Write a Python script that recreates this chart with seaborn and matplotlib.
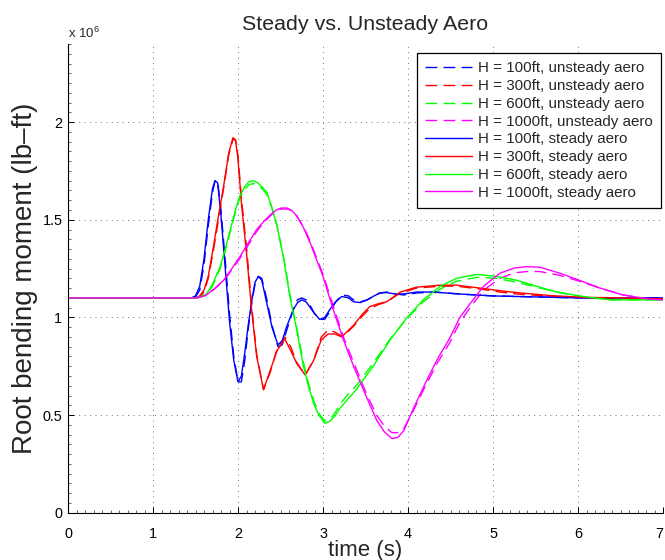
import matplotlib
matplotlib.use("Agg")
import matplotlib.pyplot as plt
import pandas as pd
import seaborn as sns
from matplotlib.ticker import MultipleLocator

# root bending moment in units of 1e6 lb-ft
T_100 = [0, 1.45, 1.50, 1.55, 1.60, 1.65, 1.70, 1.73, 1.76, 1.80, 1.85, 1.90, 1.95, 2.00, 2.04,
         2.08, 2.12, 2.16, 2.20, 2.24, 2.28, 2.34, 2.40, 2.47, 2.52, 2.57, 2.65, 2.70, 2.75, 2.80,
         2.85, 2.90, 2.96, 3.02, 3.08, 3.15, 3.22, 3.30, 3.36, 3.44, 3.52, 3.60, 3.67, 3.75, 3.85,
         3.95, 4.1, 4.3, 4.6, 5.0, 5.5, 6.0, 6.5, 7.0]
M_100_STEADY = [1.10, 1.10, 1.11, 1.16, 1.30, 1.50, 1.66, 1.70, 1.69, 1.52, 1.25, 0.98, 0.78, 0.67, 0.70,
                0.82, 0.96, 1.08, 1.18, 1.21, 1.19, 1.07, 0.95, 0.86, 0.88, 0.95, 1.04, 1.075, 1.09, 1.08,
                1.05, 1.02, 0.99, 1.00, 1.04, 1.08, 1.107, 1.10, 1.08, 1.076, 1.09, 1.11, 1.125, 1.127, 1.12,
                1.12, 1.13, 1.13, 1.12, 1.11, 1.105, 1.10, 1.10, 1.10]
M_100_UNSTEADY = [1.10, 1.10, 1.105, 1.14, 1.27, 1.47, 1.64, 1.70, 1.70, 1.55, 1.29, 1.02, 0.80, 0.67, 0.67,
                  0.78, 0.94, 1.07, 1.17, 1.21, 1.20, 1.09, 0.96, 0.85, 0.86, 0.93, 1.04, 1.09, 1.10, 1.09,
                  1.06, 1.02, 0.99, 0.99, 1.03, 1.08, 1.115, 1.11, 1.09, 1.08, 1.09, 1.11, 1.125, 1.13, 1.12,
                  1.115, 1.125, 1.13, 1.12, 1.11, 1.105, 1.10, 1.10, 1.10]

T_300 = [0, 1.50, 1.55, 1.60, 1.65, 1.71, 1.77, 1.83, 1.89, 1.94, 1.97, 2.00, 2.04, 2.10, 2.16,
         2.22, 2.30, 2.38, 2.46, 2.55, 2.62, 2.69, 2.79, 2.89, 2.98, 3.06, 3.14, 3.22, 3.29, 3.36,
         3.47, 3.55, 3.65, 3.75, 3.91, 4.10, 4.38, 4.57, 4.85, 5.08, 5.28, 5.67, 6.06, 6.5, 7.0]
M_300_STEADY = [1.10, 1.10, 1.11, 1.14, 1.21, 1.36, 1.52, 1.67, 1.84, 1.92, 1.91, 1.81, 1.585, 1.33, 1.04,
                0.80, 0.63, 0.73, 0.83, 0.89, 0.83, 0.765, 0.705, 0.78, 0.885, 0.915, 0.915, 0.90, 0.93, 0.96,
                1.02, 1.055, 1.07, 1.08, 1.13, 1.155, 1.165, 1.165, 1.15, 1.137, 1.127, 1.112, 1.103, 1.10, 1.095]
M_300_UNSTEADY = [1.10, 1.10, 1.105, 1.13, 1.20, 1.34, 1.50, 1.66, 1.83, 1.91, 1.91, 1.83, 1.61, 1.36, 1.06,
                  0.81, 0.63, 0.72, 0.84, 0.90, 0.85, 0.77, 0.705, 0.78, 0.90, 0.935, 0.925, 0.905, 0.925, 0.955,
                  1.01, 1.045, 1.065, 1.08, 1.125, 1.15, 1.16, 1.16, 1.145, 1.13, 1.12, 1.108, 1.10, 1.097, 1.095]

T_600 = [0, 1.50, 1.55, 1.63, 1.70, 1.79, 1.85, 1.91, 1.97, 2.02, 2.08, 2.13, 2.18, 2.23, 2.28,
         2.34, 2.40, 2.46, 2.54, 2.61, 2.68, 2.77, 2.83, 2.89, 2.95, 3.02, 3.08, 3.14, 3.20, 3.30,
         3.40, 3.59, 3.79, 3.98, 4.18, 4.38, 4.57, 4.81, 5.04, 5.28, 5.51, 5.75, 6.06, 6.38, 7.0]
M_600_STEADY = [1.10, 1.10, 1.105, 1.12, 1.17, 1.26, 1.35, 1.45, 1.55, 1.62, 1.67, 1.695, 1.70, 1.69, 1.67,
                1.64, 1.56, 1.465, 1.295, 1.107, 0.96, 0.75, 0.645, 0.56, 0.50, 0.458, 0.468, 0.495, 0.535, 0.585,
                0.635, 0.75, 0.885, 0.995, 1.09, 1.16, 1.20, 1.22, 1.21, 1.19, 1.16, 1.13, 1.107, 1.09, 1.09]
M_600_UNSTEADY = [1.10, 1.10, 1.103, 1.115, 1.16, 1.25, 1.34, 1.44, 1.54, 1.61, 1.655, 1.68, 1.685, 1.68, 1.66,
                  1.63, 1.56, 1.47, 1.30, 1.12, 0.97, 0.77, 0.66, 0.575, 0.51, 0.47, 0.478, 0.51, 0.555, 0.61,
                  0.655, 0.765, 0.89, 0.99, 1.08, 1.145, 1.185, 1.205, 1.20, 1.18, 1.155, 1.13, 1.105, 1.09, 1.09]

T_1000 = [0, 1.50, 1.55, 1.63, 1.73, 1.83, 1.92, 2.02, 2.12, 2.22, 2.30, 2.38, 2.45, 2.51, 2.58,
          2.64, 2.69, 2.77, 2.85, 2.92, 3.00, 3.12, 3.24, 3.36, 3.51, 3.63, 3.72, 3.81, 3.88, 3.95,
          4.06, 4.20, 4.35, 4.49, 4.61, 4.73, 4.89, 5.08, 5.25, 5.40, 5.55, 5.79, 5.98, 6.26, 6.53,
          6.85, 7.0]
M_1000_STEADY = [1.10, 1.10, 1.103, 1.115, 1.15, 1.19, 1.245, 1.31, 1.38, 1.45, 1.49, 1.525, 1.55, 1.56, 1.56,
                 1.545, 1.52, 1.46, 1.38, 1.30, 1.21, 1.04, 0.885, 0.75, 0.594, 0.475, 0.415, 0.38, 0.385, 0.42,
                 0.53, 0.66, 0.79, 0.893, 1.00, 1.07, 1.16, 1.226, 1.253, 1.26, 1.257, 1.226, 1.196, 1.15, 1.115,
                 1.093, 1.09]
M_1000_UNSTEADY = [1.10, 1.10, 1.103, 1.115, 1.148, 1.185, 1.24, 1.30, 1.37, 1.44, 1.485, 1.52, 1.545, 1.555, 1.555,
                   1.545, 1.52, 1.465, 1.39, 1.31, 1.22, 1.06, 0.90, 0.77, 0.61, 0.50, 0.445, 0.41, 0.41, 0.43,
                   0.52, 0.645, 0.77, 0.87, 0.975, 1.05, 1.14, 1.20, 1.228, 1.235, 1.235, 1.215, 1.19, 1.15, 1.115,
                   1.093, 1.09]

HEIGHTS = ["100ft", "300ft", "600ft", "1000ft"]
TIMES = [T_100, T_300, T_600, T_1000]
UNSTEADY = [M_100_UNSTEADY, M_300_UNSTEADY, M_600_UNSTEADY, M_1000_UNSTEADY]
STEADY = [M_100_STEADY, M_300_STEADY, M_600_STEADY, M_1000_STEADY]
COLORS = ["#0000ff", "#ff0000", "#00ff00", "#ff00ff"]

X_TICKS = [0, 1, 2, 3, 4, 5, 6, 7]
Y_TICKS = [0, 0.5, 1, 1.5, 2]

DASHED = (0, (8.5, 4.5))
GRID = dict(color="#444444", linestyle=(0, (1, 5.5)), linewidth=0.6)


def draw(out_path="out.png"):
    sns.set_style("ticks")
    plt.rcParams["font.family"] = ["Liberation Sans", "DejaVu Sans"]
    plt.rcParams["mathtext.fontset"] = "custom"
    plt.rcParams["mathtext.rm"] = "Liberation Sans"

    fig, ax = plt.subplots(figsize=(6.65, 5.6), dpi=100, facecolor="white")
    fig.subplots_adjust(left=68 / 665, right=663 / 665, bottom=1 - 512.7 / 560, top=1 - 44 / 560)

    # unsteady runs first so the legend order matches the original
    for h, t, m, c in zip(HEIGHTS, TIMES, UNSTEADY, COLORS):
        df = pd.DataFrame({"t": t, "M": m})
        sns.lineplot(data=df, x="t", y="M", color=c, linestyle=DASHED, lw=1.0,
                     label=f"H = {h}, unsteady aero", ax=ax)
    for h, t, m, c in zip(HEIGHTS, TIMES, STEADY, COLORS):
        df = pd.DataFrame({"t": t, "M": m})
        sns.lineplot(data=df, x="t", y="M", color=c, lw=1.0,
                     label=f"H = {h}, steady aero", ax=ax)

    ax.set_xlim(0, 7)
    ax.set_ylim(0, 2.4)
    ax.set_xticks(X_TICKS)
    ax.set_yticks(Y_TICKS)
    ax.set_yticklabels(["0", "0.5", "1", "1.5", "2"])
    ax.xaxis.set_minor_locator(MultipleLocator(0.1))
    ax.yaxis.set_minor_locator(MultipleLocator(0.05))
    ax.tick_params(which="major", direction="in", length=4, width=0.7, labelsize=10.4, colors="black")
    ax.tick_params(which="minor", direction="in", length=2, width=0.5)
    ax.tick_params(axis="x", which="major", pad=10.5)
    ax.tick_params(axis="y", which="major", pad=4)
    ax.grid(True, which="major", **GRID)
    # last x label sits on the figure edge, keep it inside
    ax.get_xticklabels()[-1].set_horizontalalignment("right")

    for side in ("top", "right"):
        ax.spines[side].set_visible(False)
    for side in ("left", "bottom"):
        ax.spines[side].set_color("black")
        ax.spines[side].set_linewidth(0.8)

    ax.set_title("Steady vs. Unsteady Aero", fontsize=15.4, pad=10)
    ax.set_xlabel("time (s)", fontsize=16, labelpad=-1)
    ax.set_ylabel("Root bending moment (lb\u2013ft)", fontsize=20, labelpad=3)
    ax.text(0, 1.012, r"x 10$^{6}$", transform=ax.transAxes, ha="left", va="baseline", fontsize=9.5)

    leg = ax.legend(loc="upper right", bbox_to_anchor=(0.997, 0.981), borderaxespad=0,
                    fontsize=10.9, handlelength=3.1, handletextpad=0.4, borderpad=0.55,
                    labelspacing=0.25, fancybox=False, framealpha=1, edgecolor="black")
    leg.get_frame().set_linewidth(0.9)

    fig.savefig(out_path, dpi=100, facecolor="white")
    plt.close(fig)


if __name__ == "__main__":
    draw()
